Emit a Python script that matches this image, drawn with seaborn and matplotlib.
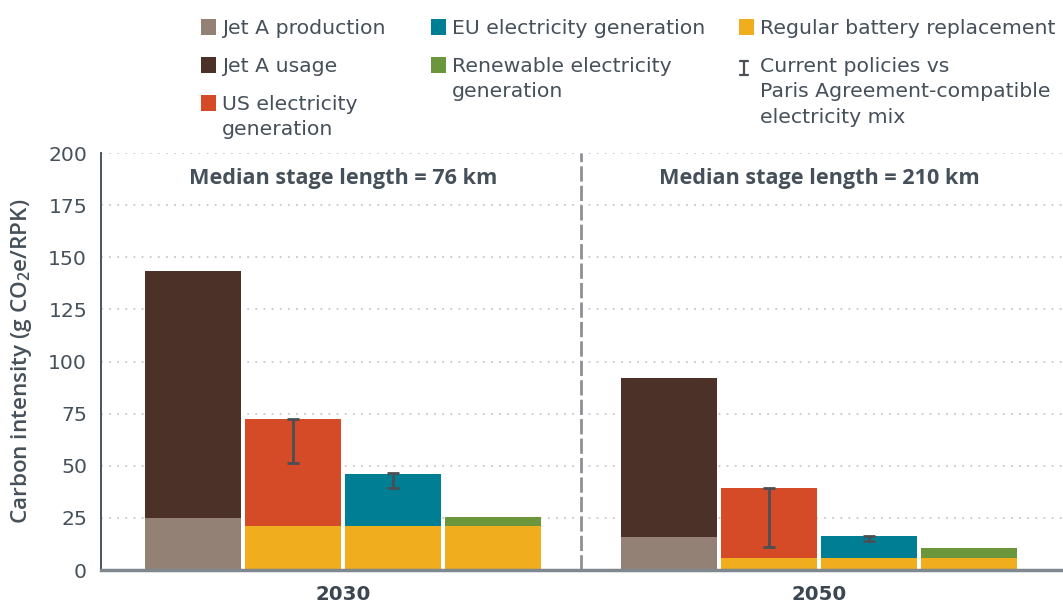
import numpy as np
import pandas as pd
import matplotlib.pyplot as plt
import seaborn as sns
from matplotlib.patches import Rectangle
from matplotlib.lines import Line2D

sns.set_theme(style="white")
plt.rcParams['font.family'] = ['DejaVu Sans']
plt.rcParams['mathtext.default'] = 'regular'

# Data (g CO2e/RPK)
years = ["2030", "2050"]
stage_labels = ["Median stage length = 76 km", "Median stage length = 210 km"]

jet_a_production = [25.0, 15.8]
jet_a_usage = [118.4, 76.2]
battery_replacement = [21.2, 5.8]
us_electricity = [51.2, 33.5]
eu_electricity = [24.8, 10.5]
renewable_electricity = [4.2, 4.8]

# current policies vs Paris Agreement-compatible mix
us_range_low = [51.5, 10.9]
us_range_high = [72.4, 39.3]
eu_range_low = [39.2, 14.1]
eu_range_high = [46.4, 16.3]

colors = {
    "Jet A production": "#948176",
    "Jet A usage": "#4b3128",
    "US electricity generation": "#d54a27",
    "EU electricity generation": "#007f94",
    "Renewable electricity generation": "#6b963c",
    "Regular battery replacement": "#f0ae1f",
}
text_col = "#46505a"
medium_font = ['Open Sans', 'DejaVu Sans']

group_step = 4.76
rows = []
for i, yr in enumerate(years):
    off = i * group_step
    rows.append(dict(year=yr, x=off + 0, bottom_part="Jet A production", bottom=jet_a_production[i],
                     top_part="Jet A usage", total=jet_a_production[i] + jet_a_usage[i]))
    rows.append(dict(year=yr, x=off + 1, bottom_part="Regular battery replacement", bottom=battery_replacement[i],
                     top_part="US electricity generation", total=battery_replacement[i] + us_electricity[i]))
    rows.append(dict(year=yr, x=off + 2, bottom_part="Regular battery replacement", bottom=battery_replacement[i],
                     top_part="EU electricity generation", total=battery_replacement[i] + eu_electricity[i]))
    rows.append(dict(year=yr, x=off + 3, bottom_part="Regular battery replacement", bottom=battery_replacement[i],
                     top_part="Renewable electricity generation", total=battery_replacement[i] + renewable_electricity[i]))
df = pd.DataFrame(rows)

fig, ax = plt.subplots(figsize=(10.63, 6.06), dpi=100)
fig.subplots_adjust(left=0.095, right=1.0, bottom=0.0594, top=0.7475)

# stacked bars: totals first, bottom segments drawn over them
sns.barplot(data=df, x="x", y="total", hue="top_part", palette=colors, native_scale=True,
            dodge=False, width=0.96, errorbar=None, legend=False, saturation=1, linewidth=0, ax=ax)
sns.barplot(data=df, x="x", y="bottom", hue="bottom_part", palette=colors, native_scale=True,
            dodge=False, width=0.96, errorbar=None, legend=False, saturation=1, linewidth=0, ax=ax)

# error ranges
ex = np.array([1, 2, 1 + group_step, 2 + group_step])
lo = np.array([us_range_low[0], eu_range_low[0], us_range_low[1], eu_range_low[1]])
hi = np.array([us_range_high[0], eu_range_high[0], us_range_high[1], eu_range_high[1]])
ax.errorbar(ex, (lo + hi) / 2, yerr=(hi - lo) / 2, fmt="none", ecolor="#4a4f55",
            elinewidth=2, capsize=4.5, capthick=2, zorder=5)

# divider between the two years
ax.axvline((3 + group_step) / 2, color="#8c8f96", lw=2, dashes=(5.5, 1.5), zorder=1)

centers = [1.5, 1.5 + group_step]
for c, lab in zip(centers, stage_labels):
    ax.text(c, 188, lab, ha="center", va="center", fontsize=15.6, fontweight="bold",
            color=text_col, family=medium_font)

ax.set_xlim(-0.92, 8.70)
ax.set_ylim(0, 200)
ax.set_yticks(range(0, 201, 25))
ax.set_xticks(centers)
ax.set_xticklabels(years, fontsize=14.2, fontweight="bold", color="#3c4650")
ax.tick_params(axis="x", length=0, pad=11)
ax.tick_params(axis="y", length=0, pad=10, labelsize=14.7, labelcolor=text_col)
ax.set_xlabel("")
ax.set_ylabel("Carbon intensity (g CO$_2$e/RPK)", fontsize=16.2, fontweight="semibold",
              color=text_col, labelpad=10, family=medium_font)

ax.grid(axis="y", color="#c8c8c8", lw=1.3, dashes=(1, 3.5))
ax.set_axisbelow(True)
sns.despine(ax=ax)
ax.spines["left"].set_color("#4a5560")
ax.spines["left"].set_linewidth(1.4)
ax.spines["bottom"].set_color("#7f878f")
ax.spines["bottom"].set_linewidth(2.5)


# legend laid out in three columns above the plot
def fx(px):
    return px / 1063


def fy(py):
    return 1 - py / 606


legend_items = [
    ("Jet A production", colors["Jet A production"], 201, 27),
    ("Jet A usage", colors["Jet A usage"], 201, 65),
    ("US electricity\ngeneration", colors["US electricity generation"], 201, 103),
    ("EU electricity generation", colors["EU electricity generation"], 431, 27),
    ("Renewable electricity\ngeneration", colors["Renewable electricity generation"], 431, 65),
    ("Regular battery replacement", colors["Regular battery replacement"], 739, 27),
    ("Current policies vs\nParis Agreement-compatible\nelectricity mix", None, 739, 65),
]
for lab, col, x0, yc in legend_items:
    if col is not None:
        fig.add_artist(Rectangle((fx(x0), fy(yc + 7.5)), fx(15), 15 / 606,
                                 transform=fig.transFigure, color=col, lw=0))
    else:
        xm = x0 + 5
        ym = yc + 3
        fig.add_artist(Line2D([fx(xm), fx(xm)], [fy(ym - 7), fy(ym + 7)], transform=fig.transFigure,
                              color="#4a4f55", lw=1.6))
        for yy in (ym - 7, ym + 7):
            fig.add_artist(Line2D([fx(xm - 4), fx(xm + 4)], [fy(yy), fy(yy)], transform=fig.transFigure,
                                  color="#4a4f55", lw=1.6))
    fig.text(fx(x0 + 21), fy(yc - 8), lab, ha="left", va="top", fontsize=14.7,
             color=text_col, linespacing=1.42)

fig.savefig("out.png", dpi=100)
